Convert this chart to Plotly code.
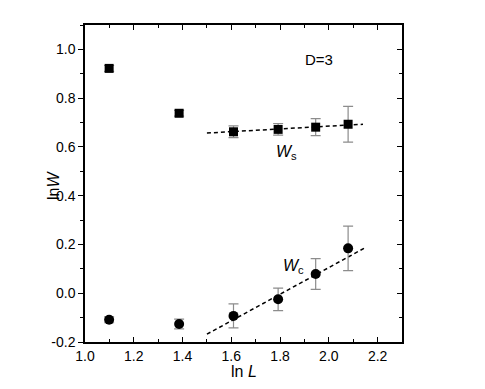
import plotly.graph_objects as go

# ln L for L = 3..8
ln_L = [1.099, 1.386, 1.609, 1.792, 1.946, 2.079]

# lnW_s (squares) and lnW_c (circles) with error bars
ln_ws = [0.922, 0.738, 0.662, 0.672, 0.681, 0.693]
ln_ws_err = [0.012, 0.012, 0.024, 0.024, 0.035, 0.073]
ln_wc = [-0.109, -0.126, -0.093, -0.025, 0.079, 0.184]
ln_wc_err = [0.012, 0.02, 0.049, 0.046, 0.063, 0.091]

# dashed linear fits over the last four points
ws_fit_x = [1.5, 2.14]
ws_fit_y = [0.657, 0.693]
wc_fit_x = [1.5, 2.144]
wc_fit_y = [-0.168, 0.184]

y_ticks = [-0.2, 0.0, 0.2, 0.4, 0.6, 0.8, 1.0]
y_ticktext = ['-0.2', '0.0', '0.2', '0.4', '0.6', '0.8', '1.0']

font = 'Arial, Liberation Sans, sans-serif'
err_col = '#8c8c8c'

fig = go.Figure()

fig.add_scatter(x=ws_fit_x, y=ws_fit_y, mode='lines',
                line=dict(color='black', width=1.5, dash='4px,3px'))
fig.add_scatter(x=wc_fit_x, y=wc_fit_y, mode='lines',
                line=dict(color='black', width=1.5, dash='4px,3px'))

fig.add_scatter(x=ln_L, y=ln_ws, mode='markers',
                marker=dict(symbol='square', size=9, color='black'),
                error_y=dict(type='data', array=ln_ws_err, color=err_col, thickness=1.2, width=5))
fig.add_scatter(x=ln_L, y=ln_wc, mode='markers',
                marker=dict(symbol='circle', size=10, color='black'),
                error_y=dict(type='data', array=ln_wc_err, color=err_col, thickness=1.2, width=5))

# invisible trace so the right-hand tick axis is drawn
fig.add_scatter(x=[None], y=[None], yaxis='y2', showlegend=False, hoverinfo='skip')

fig.add_annotation(x=1.96, y=0.96, text='D=3', showarrow=False,
                   font=dict(family=font, size=15, color='black'))
fig.add_annotation(x=1.825, y=0.577, text='<i>W</i><sub>s</sub>', showarrow=False,
                   font=dict(family=font, size=16, color='black'))
fig.add_annotation(x=1.853, y=0.11, text='<i>W</i><sub>c</sub>', showarrow=False,
                   font=dict(family=font, size=16, color='black'))

# axis titles placed as annotations
fig.add_annotation(xref='paper', yref='paper', x=-0.101, y=0.495, textangle=-90,
                   xanchor='center', yanchor='middle',
                   text='ln<i>W</i>', showarrow=False,
                   font=dict(family=font, size=16, color='black'))
fig.add_annotation(xref='paper', yref='paper', x=0.5, y=-0.094,
                   xanchor='center', yanchor='middle',
                   text='ln <i>L</i>', showarrow=False,
                   font=dict(family=font, size=16, color='black'))

# page body adds an 8px offset, so the figure is shrunk to fit the window
fig.update_layout(
    width=477, height=381,
    margin=dict(l=77, r=83, t=17, b=47),
    paper_bgcolor='white', plot_bgcolor='white',
    showlegend=False,
    font=dict(family=font, size=14, color='black'),
    xaxis=dict(range=[1.0, 2.3], dtick=0.2, tickformat='.1f',
               showgrid=False, zeroline=False,
               showline=True, linecolor='black', linewidth=1.5, mirror='ticks',
               ticks='inside', ticklen=5, tickwidth=1, tickcolor='black',
               minor=dict(dtick=0.1, ticks='inside', ticklen=3, tickcolor='black')),
    yaxis=dict(range=[-0.2, 1.1], tickvals=y_ticks, ticktext=y_ticktext,
               showgrid=False, zeroline=False,
               showline=True, linecolor='black', linewidth=1.5, mirror=True,
               ticks='outside', ticklen=5, tickwidth=1, tickcolor='black',
               minor=dict(dtick=0.1, ticks='outside', ticklen=3, tickcolor='black')),
    yaxis2=dict(range=[-0.2, 1.1], overlaying='y', side='right', dtick=0.2,
                showgrid=False, zeroline=False, showline=False, showticklabels=False,
                ticks='inside', ticklen=5, tickwidth=1, tickcolor='black',
                minor=dict(dtick=0.1, ticks='inside', ticklen=3, tickcolor='black')),
)

fig.write_html('out.html')
